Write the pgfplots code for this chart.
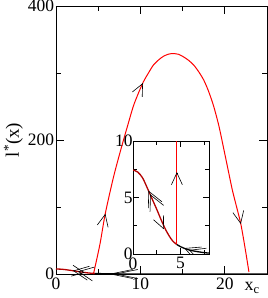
\documentclass[border=0pt]{standalone}
\usepackage{fontspec}
\setmainfont{Liberation Serif}
\usepackage{pgfplots}
\pgfplotsset{compat=1.18}
\usetikzlibrary{arrows.meta}
\definecolor{dkred}{RGB}{180,0,0}
\tikzset{
  arrS/.style={black, line width=0.6bp, -{Straight Barb[length=12bp,width=11bp]}},
  arrD/.style={black, line width=0.6bp, -{Straight Barb[length=15bp,width=15bp]}},
  arrM/.style={black, line width=0.6bp, -{Straight Barb[length=15bp,width=14bp]}},
  arrL/.style={black, line width=0.6bp, -{Straight Barb[length=22bp,width=9bp]}},
}
\begin{document}
\begin{tikzpicture}
\begin{axis}[
  name=main,
  scale only axis, width=211bp, height=268bp,
  xmin=0, xmax=25, ymin=0, ymax=400,
  clip=false,
  xtick={0,10,20}, minor xtick={5,15},
  ytick={0,200,400}, minor ytick={100,300},
  tick align=inside,
  major tick length=8bp, minor tick length=5bp,
  every tick/.style={black, line width=0.8bp},
  axis line style={line width=0.9bp},
  tick label style={font=\fontsize{17.5}{20}\selectfont},
  yticklabel style={xshift=1.5bp},
  /pgf/number format/assume math mode=true,
  xlabel={x\textsubscript{c}},
  xlabel style={font=\fontsize{18}{20}\selectfont, at={(axis description cs:0.93,0)}, anchor=base, yshift=-16.5bp, inner sep=0pt},
  ylabel={l\textsuperscript{*}(x)},
  ylabel style={font=\fontsize{19}{22}\selectfont, at={(axis description cs:-0.156,0.5)}, anchor=south, inner sep=0pt},
]
\coordinate (O) at (rel axis cs:0,0);
% main red curve
\addplot[red, line width=1bp, smooth, tension=0.45] coordinates {
 (4.44,0) (5.2,44) (5.83,89.6) (6.8,144) (7.7,186.6) (8.5,222) (9.17,250.7)
 (9.8,271) (10.36,287) (11.0,301) (11.55,312) (12.2,320) (12.74,325) (13.3,328)
 (13.81,329) (14.5,328) (15.12,324) (15.7,319) (16.31,312) (16.9,302) (17.5,289.6)
 (18.1,272) (18.69,250) (19.3,221) (19.88,186.6) (20.4,155) (20.9,125) (21.4,100)
 (21.9,74.6) (22.4,39) (22.86,3)
};
% dark red branch
\addplot[dkred, line width=1.3bp, smooth] coordinates {
 (0,7.43) (0.5,7.25) (1.0,6.75) (1.5,5.85) (2.0,4.9) (2.5,3.95) (3.0,2.95)
 (3.5,2.05) (4.0,1.35) (4.3,1.05) (4.6,0.85)
};
% black tail
\addplot[black, line width=1.3bp] coordinates {
 (4.6,0.85) (5,0.65) (5.5,0.47) (6,0.34) (7,0.18) (8,0.08) (25,0)
};
% arrows on main curves
\addplot[arrS] coordinates {(5.818,88.13) (5.85,90)};
\addplot[arrS] coordinates {(10.276,284.39) (10.3,285)};
\addplot[arrS] coordinates {(21.870,76.44) (21.9,74.6)};
\addplot[arrL] coordinates {(6.4,0) (6.3,0)};
\addplot[arrL] coordinates {(7.0,0) (6.9,0)};
\addplot[arrM] coordinates {(2.1,4.7) (2.0,4.9)};
\addplot[arrM] coordinates {(2.7,3.55) (2.6,3.75)};
\addplot[arrS] coordinates {(3.3,2.15) (3.4,1.95)};
\end{axis}
\begin{axis}[
  at={(O)}, anchor=south west, xshift=77bp, yshift=20bp,
  scale only axis, width=76bp, height=113bp,
  xmin=0, xmax=8, ymin=0, ymax=10,
  xtick={0,5}, minor xtick={2.5,7.5},
  ytick={0,5,10}, minor ytick={2.5,7.5},
  tick align=inside,
  major tick length=6bp, minor tick length=4bp,
  every tick/.style={black, line width=0.8bp},
  axis line style={line width=0.9bp},
  axis background/.style={fill=white},
  tick label style={font=\fontsize{17.5}{20}\selectfont},
  yticklabel style={xshift=3bp},
  /pgf/number format/assume math mode=true,
]
\addplot[dkred, line width=1.3bp, smooth] coordinates {
 (0,7.43) (0.5,7.25) (1.0,6.75) (1.5,5.85) (2.0,4.9) (2.5,3.95) (3.0,2.95)
 (3.5,2.05) (4.0,1.35) (4.3,1.05) (4.6,0.85)
};
\addplot[black, line width=1.3bp, smooth] coordinates {
 (4.6,0.85) (5,0.65) (5.5,0.47) (6,0.34) (6.5,0.25) (7,0.18) (7.5,0.12) (8,0.08)
};
\addplot[red, line width=1bp] coordinates {(4.62,0.85) (4.62,10)};
% arrows
\addplot[arrD] coordinates {(1.66,5.546) (1.63,5.6)};
\addplot[arrD] coordinates {(1.84,5.226) (1.81,5.28)};
\addplot[arrS] coordinates {(3.22,2.219) (3.23,2.2)};
\addplot[arrS] coordinates {(4.62,7.15) (4.62,7.25)};
\addplot[arrD] coordinates {(5.45,0.503) (5.4,0.52)};
\addplot[arrD] coordinates {(5.95,0.335) (5.9,0.35)};
\end{axis}
\pgfresetboundingbox
\path[use as bounding box] (O) ++(-56bp,-24bp) rectangle ++(268bp,298bp);
\end{tikzpicture}
\end{document}
